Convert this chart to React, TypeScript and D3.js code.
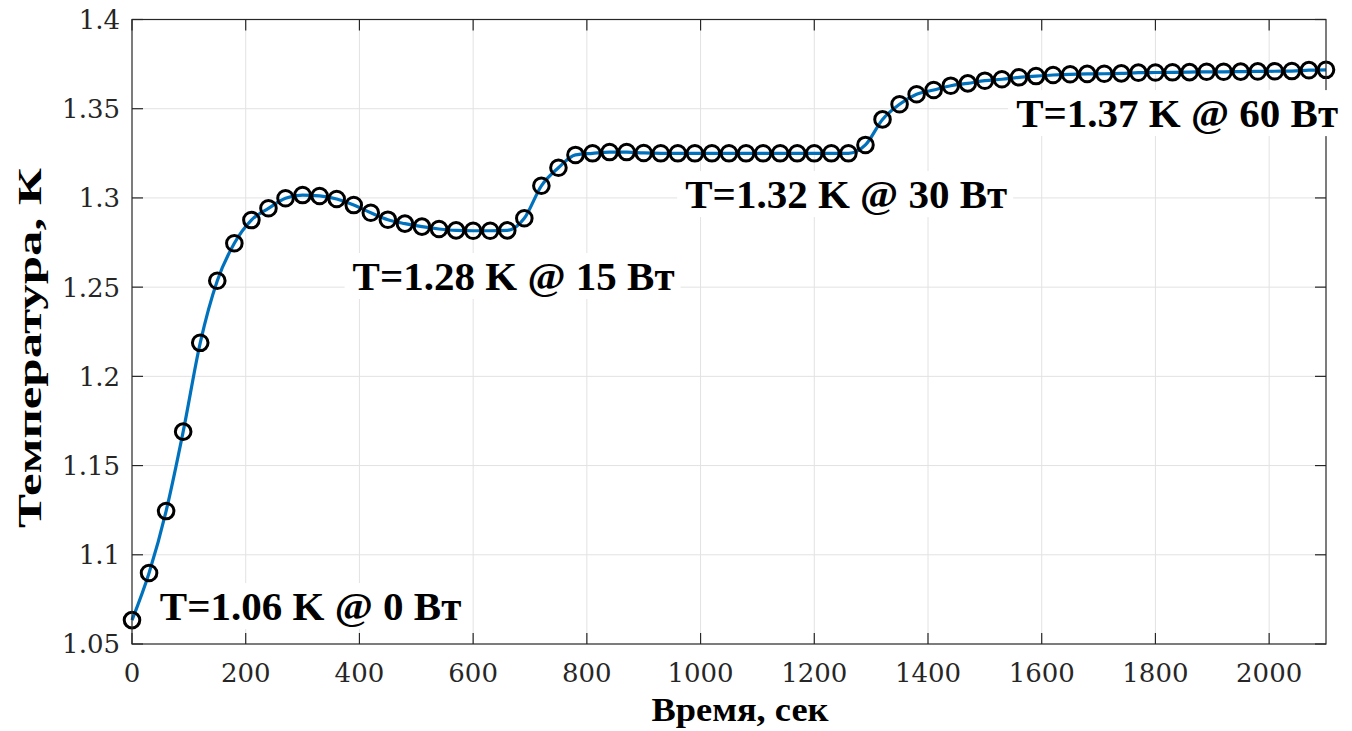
import React, { useEffect, useRef } from "react";
import * as d3 from "d3";

const timeSec: number[] = [
  0, 30, 60, 90, 120, 150, 180, 210, 240, 270, 300, 330, 360, 390, 420, 450, 480, 510, 540, 570,
  600, 630, 660, 690, 720, 750, 780, 810, 840, 870, 900, 930, 960, 990, 1020, 1050, 1080, 1110,
  1140, 1170, 1200, 1230, 1260, 1290, 1320, 1350, 1380, 1410, 1440, 1470, 1500, 1530, 1560, 1590,
  1620, 1650, 1680, 1710, 1740, 1770, 1800, 1830, 1860, 1890, 1920, 1950, 1980, 2010, 2040, 2070, 2100,
];

const temperatureK: number[] = [
  1.0634, 1.0898, 1.1245, 1.169, 1.2188, 1.2536, 1.2746, 1.2876, 1.2942, 1.2998, 1.3016, 1.3011,
  1.2994, 1.296, 1.2917, 1.2878, 1.2856, 1.2839, 1.2826, 1.2818, 1.2816, 1.2816, 1.2818, 1.2886,
  1.3068, 1.3169, 1.3241, 1.325, 1.3257, 1.3257, 1.3252, 1.325, 1.325, 1.325, 1.325, 1.325, 1.325,
  1.325, 1.325, 1.325, 1.325, 1.325, 1.325, 1.3297, 1.344, 1.3525, 1.3581, 1.3605, 1.3629, 1.3642,
  1.3657, 1.3665, 1.3676, 1.3683, 1.3689, 1.3693, 1.3695, 1.3696, 1.3698, 1.3702, 1.3703, 1.3704,
  1.3705, 1.3707, 1.3707, 1.3708, 1.3709, 1.371, 1.3711, 1.3716, 1.3718,
];

const xTicks: number[] = [0, 200, 400, 600, 800, 1000, 1200, 1400, 1600, 1800, 2000];
const yTicks: number[] = [1.05, 1.1, 1.15, 1.2, 1.25, 1.3, 1.35, 1.4];
const yTickLabels: string[] = ["1.05", "1.1", "1.15", "1.2", "1.25", "1.3", "1.35", "1.4"];

const annotationTexts: string[] = [
  "T=1.06 K @ 0 Вт",
  "T=1.28 K @ 15 Вт",
  "T=1.32 K @ 30 Вт",
  "T=1.37 K @ 60 Вт",
];
const annotationX: number[] = [49, 388, 973, 1555];
const annotationY: number[] = [1.0634, 1.2484, 1.2943, 1.3397];

const xLabel = "Время, сек";
const yLabel = "Температура, К";

const W = 1352;
const H = 731;
const M = { left: 132, right: 1326, top: 19.5, bottom: 644 };

export default function App() {
  const ref = useRef<SVGSVGElement | null>(null);

  useEffect(() => {
    document.body.style.margin = "0";
    const svg = d3.select(ref.current!);
    svg.selectAll("*").remove();

    const x = d3.scaleLinear().domain([0, 2100]).range([M.left, M.right]);
    const y = d3.scaleLinear().domain([1.05, 1.4]).range([M.bottom, M.top]);

    const axisColor = "#262626";
    const gridColor = "#e2e2e2";
    const tickFont = "'DejaVu Serif', serif";
    const boldFont = "'Liberation Serif', 'Times New Roman', serif";

    svg.append("rect").attr("x", M.left).attr("y", M.top)
      .attr("width", M.right - M.left).attr("height", M.bottom - M.top).attr("fill", "#fff");

    // grid
    const grid = svg.append("g");
    grid.selectAll("line.vx").data(xTicks.filter((t) => t > 0)).join("line")
      .attr("x1", (d) => x(d)).attr("x2", (d) => x(d))
      .attr("y1", M.top).attr("y2", M.bottom)
      .attr("stroke", gridColor).attr("stroke-width", 1);
    grid.selectAll("line.hy").data(yTicks.filter((t) => t > 1.05 && t < 1.4)).join("line")
      .attr("y1", (d) => y(d)).attr("y2", (d) => y(d))
      .attr("x1", M.left).attr("x2", M.right)
      .attr("stroke", gridColor).attr("stroke-width", 1);

    // line
    const data = timeSec.map((t, i) => ({ t, v: temperatureK[i] }));
    const line = d3.line<{ t: number; v: number }>()
      .x((d) => x(d.t)).y((d) => y(d.v)).curve(d3.curveMonotoneX);
    svg.append("path").datum(data).attr("d", line)
      .attr("fill", "none").attr("stroke", "#0072BD").attr("stroke-width", 3.2);

    // markers
    svg.append("g").selectAll("circle").data(data).join("circle")
      .attr("cx", (d) => x(d.t)).attr("cy", (d) => y(d.v)).attr("r", 7.8)
      .attr("fill", "none").attr("stroke", "#000").attr("stroke-width", 3);

    // axes box
    const ax = svg.append("g");
    ax.append("rect").attr("x", M.left).attr("y", M.top)
      .attr("width", M.right - M.left).attr("height", M.bottom - M.top)
      .attr("fill", "none").attr("stroke", axisColor).attr("stroke-width", 1.2);

    const tl = 11;
    xTicks.forEach((t) => {
      ax.append("line").attr("x1", x(t)).attr("x2", x(t)).attr("y1", M.bottom).attr("y2", M.bottom - tl)
        .attr("stroke", axisColor).attr("stroke-width", 1.2);
      ax.append("line").attr("x1", x(t)).attr("x2", x(t)).attr("y1", M.top).attr("y2", M.top + tl)
        .attr("stroke", axisColor).attr("stroke-width", 1.2);
      ax.append("text").attr("x", x(t)).attr("y", 682).attr("text-anchor", "middle")
        .attr("font-family", tickFont).attr("font-size", 26).attr("fill", axisColor).text(String(t));
    });
    yTicks.forEach((t, i) => {
      ax.append("line").attr("x1", M.left).attr("x2", M.left + tl).attr("y1", y(t)).attr("y2", y(t))
        .attr("stroke", axisColor).attr("stroke-width", 1.2);
      ax.append("line").attr("x1", M.right).attr("x2", M.right - tl).attr("y1", y(t)).attr("y2", y(t))
        .attr("stroke", axisColor).attr("stroke-width", 1.2);
      ax.append("text").attr("x", 120).attr("y", y(t)).attr("dy", "0.36em").attr("text-anchor", "end")
        .attr("font-family", tickFont).attr("font-size", 26).attr("fill", axisColor).text(yTickLabels[i]);
    });

    // annotations with white boxes (drawn over axes)
    const ann = svg.append("g");
    annotationTexts.forEach((txt, i) => {
      const g = ann.append("g");
      const rect = g.append("rect").attr("fill", "#fff");
      const te = g.append("text")
        .attr("x", x(annotationX[i])).attr("y", y(annotationY[i]))
        .attr("font-family", boldFont).attr("font-weight", "bold")
        .attr("font-size", 41).attr("fill", "#000").text(txt);
      const bb = (te.node() as SVGTextElement).getBBox();
      rect.attr("x", bb.x - 8).attr("y", bb.y).attr("width", bb.width + 14).attr("height", bb.height);
    });

    // axis labels
    svg.append("text").attr("x", 740).attr("y", 721).attr("text-anchor", "middle")
      .attr("font-family", boldFont).attr("font-weight", "bold").attr("font-size", 33).attr("fill", "#000")
      .attr("textLength", 177).attr("lengthAdjust", "spacingAndGlyphs")
      .text(xLabel);
    svg.append("text").attr("transform", `translate(41, 348) rotate(-90)`).attr("text-anchor", "middle")
      .attr("font-family", boldFont).attr("font-weight", "bold").attr("font-size", 34).attr("fill", "#000")
      .attr("textLength", 360).attr("lengthAdjust", "spacingAndGlyphs")
      .text(yLabel);
  }, []);

  return <svg ref={ref} width={W} height={H} style={{ display: "block", background: "#fff" }} />;
}
